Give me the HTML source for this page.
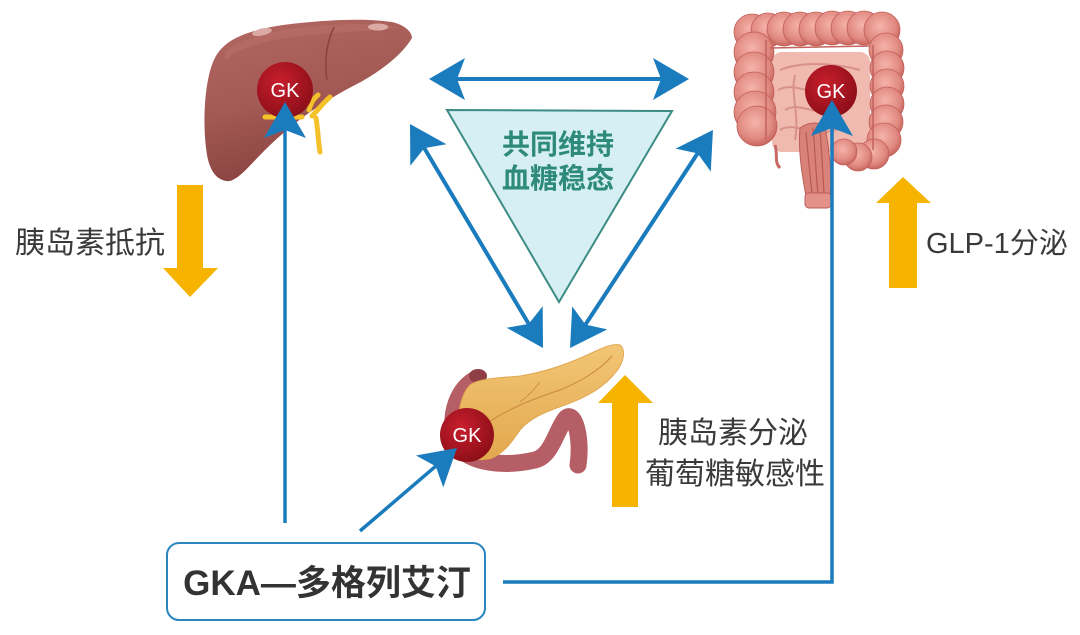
<!DOCTYPE html>
<html><head><meta charset="utf-8">
<style>
html,body{margin:0;padding:0;background:#fff;}
svg{display:block;}
text{font-family:"Liberation Sans","Noto Sans CJK SC",sans-serif;}
</style></head>
<body>
<svg width="1080" height="635" viewBox="0 0 1080 635" xmlns="http://www.w3.org/2000/svg">
<defs>
  <marker id="ah" markerUnits="userSpaceOnUse" markerWidth="40" markerHeight="46" viewBox="0 -23 38 46" refX="8" refY="0" orient="auto-start-reverse">
    <path d="M0,-21 L36,0 L0,21 L8,0 Z" fill="#1a7bbd"/>
  </marker>
  <radialGradient id="gk" cx="0.4" cy="0.35" r="0.7">
    <stop offset="0" stop-color="#c81e2c"/>
    <stop offset="1" stop-color="#8a0e18"/>
  </radialGradient>
  <linearGradient id="liv" x1="0" y1="0" x2="0.3" y2="1">
    <stop offset="0" stop-color="#b36862"/>
    <stop offset="0.55" stop-color="#a35954"/>
    <stop offset="1" stop-color="#8a4441"/>
  </linearGradient>
  <radialGradient id="bump" cx="0.45" cy="0.4" r="0.6">
    <stop offset="0" stop-color="#f6b3aa"/>
    <stop offset="0.7" stop-color="#e08a81"/>
    <stop offset="1" stop-color="#c8665f"/>
  </radialGradient>
  <linearGradient id="pan" x1="0" y1="0" x2="0" y2="1">
    <stop offset="0" stop-color="#f2c675"/>
    <stop offset="1" stop-color="#e2a84f"/>
  </linearGradient>
</defs>

<!-- LIVER -->
<path d="M222,48 C236,33 268,26 300,23 C330,20 365,18 392,22 C405,25 412,32 412,38 C402,55 380,72 355,85 C320,103 290,125 265,150 C250,165 240,178 230,181 C218,182 210,172 207,155 C203,130 204,100 208,80 C211,65 215,55 222,48 Z" fill="url(#liv)"/>
<path d="M225,52 C240,38 275,30 305,27 C340,24 375,22 400,28 C380,30 340,32 300,36 C265,40 240,48 225,60 Z" fill="#b97069" opacity="0.6"/>
<path d="M334,27 C327,42 324,60 327,80" stroke="#874340" stroke-width="1.5" fill="none"/>
<ellipse cx="262" cy="32" rx="10" ry="3.5" fill="#dcaaa5" transform="rotate(-12 262 32)"/>
<ellipse cx="378" cy="27" rx="10" ry="3.5" fill="#dcaaa5"/>
<g stroke="#f4c12a" stroke-width="5" fill="none" stroke-linecap="round">
  <path d="M265,117 L302,117"/>
  <path d="M312,116 C318,110 323,103 330,97"/>
  <path d="M316,118 C318,130 318,140 320,152"/>
  <path d="M309,110 C311,102 314,98 318,95"/>
</g>
<circle cx="285" cy="90" r="28" fill="url(#gk)"/>
<text x="285" y="97" font-size="20" fill="#fff" text-anchor="middle">GK</text>

<!-- COLON -->
<rect x="772" y="52" width="98" height="100" rx="10" fill="#f0bab1"/>
<g stroke="#d8918a" stroke-width="2" fill="none">
  <path d="M780,70 C800,62 830,62 860,70"/>
  <path d="M778,90 C795,80 815,100 835,88"/>
  <path d="M785,110 C800,100 820,120 840,108"/>
  <path d="M780,130 C795,120 815,140 840,128"/>
  <path d="M795,75 C790,95 800,115 795,140"/>
</g>
<g fill="url(#bump)" stroke="#c25f59" stroke-width="0.8">
  <circle cx="752" cy="32" r="18"/>
  <circle cx="768" cy="30" r="17"/>
  <circle cx="784" cy="29" r="17"/>
  <circle cx="800" cy="29" r="17"/>
  <circle cx="816" cy="29" r="17"/>
  <circle cx="832" cy="28" r="17"/>
  <circle cx="848" cy="28" r="17"/>
  <circle cx="864" cy="28" r="17"/>
  <circle cx="882" cy="30" r="18"/>
  <circle cx="754" cy="52" r="20"/>
  <circle cx="754" cy="72" r="20"/>
  <circle cx="754" cy="92" r="20"/>
  <circle cx="755" cy="112" r="21"/>
  <circle cx="757" cy="126" r="20"/>
  <circle cx="886" cy="50" r="17"/>
  <circle cx="887" cy="68" r="17"/>
  <circle cx="887" cy="86" r="17"/>
  <circle cx="887" cy="104" r="17"/>
  <circle cx="886" cy="122" r="17"/>
  <circle cx="884" cy="140" r="17"/>
  <circle cx="874" cy="154" r="15"/>
  <circle cx="858" cy="157" r="14"/>
  <circle cx="844" cy="152" r="13"/>
</g>
<g stroke="#c3625c" stroke-width="1.5" fill="none">
  <path d="M770,48 L870,46"/>
  <path d="M766,40 L766,140"/>
  <path d="M873,45 L873,150"/>
</g>
<path d="M775,145 C778,155 774,162 780,168" stroke="#c86a63" stroke-width="3" fill="none"/>
<path d="M800,128 C812,120 824,122 826,132 C830,155 832,178 830,196 L806,196 C802,175 798,150 800,128 Z" fill="#d9827a" stroke="#bb5d57" stroke-width="1"/>
<g stroke="#b85a54" stroke-width="1.2" fill="none">
  <path d="M806,132 C808,155 810,175 812,194"/>
  <path d="M813,128 C815,150 816,175 818,194"/>
  <path d="M820,130 C822,155 823,175 824,194"/>
</g>
<rect x="805" y="193" width="26" height="15" rx="4" fill="#e3918a" stroke="#bb5d57" stroke-width="1"/>
<circle cx="831" cy="91" r="26" fill="url(#gk)"/>
<text x="831" y="98" font-size="20" fill="#fff" text-anchor="middle">GK</text>

<!-- PANCREAS -->
<g fill="none" stroke="#b65e66" stroke-width="17" stroke-linecap="round">
  <path d="M478,378 C458,386 448,415 455,440 C462,462 500,468 535,460 C552,456 556,430 566,418 C575,410 582,440 578,465"/>
</g>
<ellipse cx="478" cy="376" rx="9" ry="7" fill="#8f3e45"/>
<path d="M470,385 C480,378 500,378 520,376 C545,372 565,365 585,356 C600,349 612,343 620,345 C626,350 624,362 616,372 C605,386 590,396 565,405 C545,412 530,418 520,430 C512,442 505,452 492,458 C476,463 460,455 458,440 C456,420 460,395 470,385 Z" fill="url(#pan)" stroke="#e0a850" stroke-width="1"/>
<path d="M485,425 C505,410 530,400 560,390 C580,382 600,370 612,356" stroke="#c9893d" stroke-width="1" fill="none"/>
<path d="M520,402 C530,395 535,388 540,382" stroke="#c9893d" stroke-width="0.8" fill="none"/>
<circle cx="467" cy="435" r="27" fill="url(#gk)"/>
<text x="467" y="442" font-size="20" fill="#fff" text-anchor="middle">GK</text>

<!-- TRIANGLE -->
<polygon points="447,110 672,111 559,302" fill="#d5eff3" stroke="#3d8c84" stroke-width="2"/>
<text x="558" y="154" font-size="28" font-weight="bold" fill="#2e8a7a" text-anchor="middle">共同维持</text>
<text x="558" y="188" font-size="28" font-weight="bold" fill="#2e8a7a" text-anchor="middle">血糖稳态</text>

<g stroke="#1a7bbd" stroke-width="4" fill="none">
  <line x1="457" y1="79" x2="661" y2="79" marker-start="url(#ah)" marker-end="url(#ah)"/>
  <line x1="424.3" y1="148.1" x2="528.7" y2="323.9" marker-start="url(#ah)" marker-end="url(#ah)"/>
  <line x1="697.6" y1="153.4" x2="585.4" y2="324.6" marker-start="url(#ah)" marker-end="url(#ah)"/>
</g>

<g stroke="#1a7bbd" stroke-width="3.5" fill="none">
  <line x1="285" y1="523" x2="285" y2="130" marker-end="url(#ah)"/>
  <line x1="360" y1="531" x2="435.7" y2="466.2" marker-end="url(#ah)"/>
  <polyline points="503,582 832,582 832,128" marker-end="url(#ah)"/>
</g>

<polygon points="177,185 203,185 203,268 218,268 190,297 163,268 177,268" fill="#f6b400"/>
<polygon points="625,375 653,403 638,403 638,507 612,507 612,403 598,403" fill="#f6b400"/>
<polygon points="903,177 931,203 917,203 917,288 889,288 889,203 876,203" fill="#f6b400"/>

<text x="15" y="253" font-size="30" fill="#3a3a3a">胰岛素抵抗</text>
<text x="658" y="443" font-size="30" fill="#3a3a3a">胰岛素分泌</text>
<text x="645" y="484" font-size="30" fill="#3a3a3a">葡萄糖敏感性</text>
<text x="926" y="253" font-size="29" fill="#3a3a3a">GLP-1分泌</text>

<rect x="167" y="543" width="318" height="77" rx="12" fill="#fff" stroke="#2a86bf" stroke-width="2"/>
<text x="327" y="595" font-size="35" font-weight="bold" fill="#333" text-anchor="middle">GKA—多格列艾汀</text>
</svg>
</body></html>
